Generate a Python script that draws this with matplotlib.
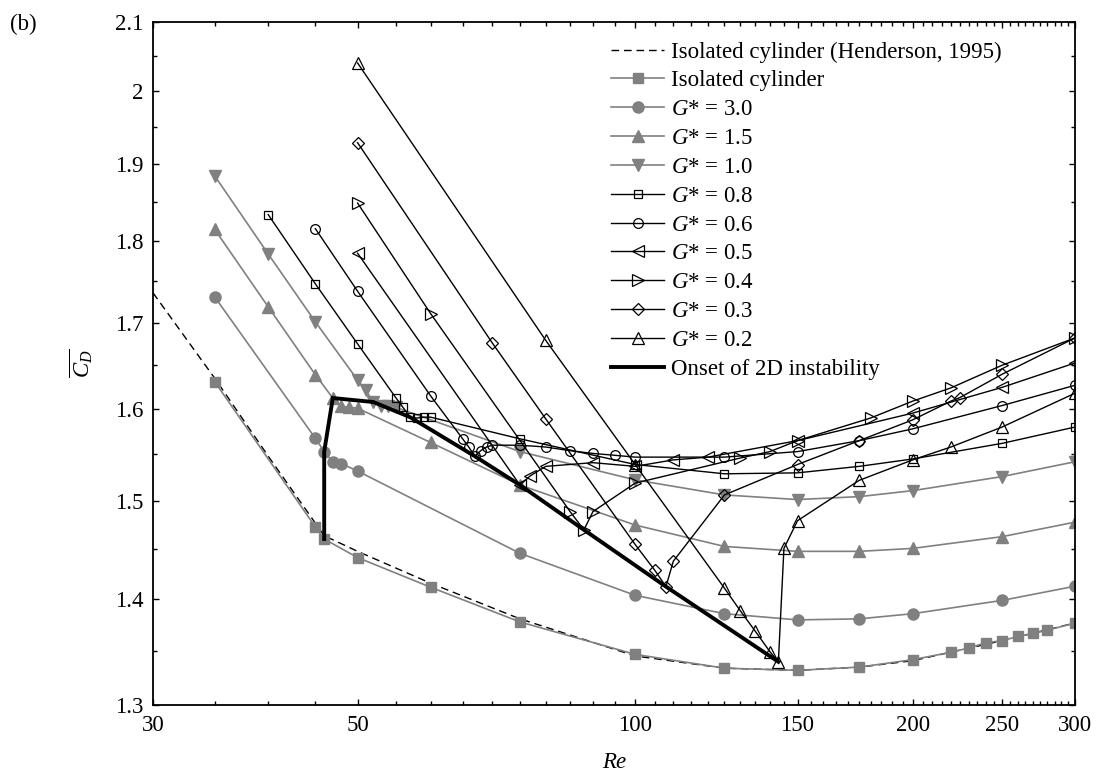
import matplotlib
matplotlib.use("Agg")
import matplotlib.pyplot as plt
from matplotlib.ticker import FixedLocator, NullFormatter

plt.rcParams['font.family'] = ['Liberation Serif', 'DejaVu Serif']
plt.rcParams['mathtext.fontset'] = 'custom'
plt.rcParams['mathtext.rm'] = 'Liberation Serif'
plt.rcParams['mathtext.it'] = 'Liberation Serif:italic'
plt.rcParams['font.size'] = 16.5

# Henderson (1995) reference curve
re_hend = [30, 35, 40, 46, 50, 60, 75, 100, 125, 150, 175, 200, 250, 300]
cd_hend = [1.736, 1.635, 1.548, 1.464, 1.448, 1.416, 1.381, 1.3455, 1.334, 1.332, 1.335, 1.341, 1.360, 1.377]

# isolated cylinder (present)
re_iso = [35, 45, 46, 50, 60, 75, 100, 125, 150, 175, 200, 220, 230, 240, 250, 260, 270, 280, 300]
cd_iso = [1.631, 1.473, 1.4606, 1.4417, 1.412, 1.378, 1.347, 1.334, 1.332, 1.335, 1.342, 1.349, 1.353,
          1.358, 1.360, 1.364, 1.367, 1.370, 1.377]

re_g30 = [35, 45, 46, 47, 48, 50, 75, 100, 125, 150, 175, 200, 250, 300]
cd_g30 = [1.731, 1.5675, 1.553, 1.542, 1.540, 1.532, 1.446, 1.404, 1.386, 1.380, 1.381, 1.386, 1.399, 1.413]

re_g15 = [35, 40, 45, 47, 48, 49, 50, 60, 75, 100, 125, 150, 175, 200, 250, 300]
cd_g15 = [1.815, 1.719, 1.639, 1.6125, 1.603, 1.602, 1.601, 1.563, 1.517, 1.475, 1.453, 1.448, 1.448,
          1.451, 1.463, 1.478]

re_g10 = [35, 40, 45, 50, 51, 52, 53, 54, 55, 75, 100, 125, 150, 175, 200, 250, 300]
cd_g10 = [1.8845, 1.784, 1.701, 1.633, 1.6217, 1.608, 1.604, 1.604, 1.602, 1.553, 1.5225, 1.5065, 1.5016,
          1.5047, 1.511, 1.526, 1.542]

re_g08 = [40, 45, 50, 55, 56, 57, 58, 59, 60, 75, 100, 125, 150, 175, 200, 250, 300]
cd_g08 = [1.834, 1.747, 1.675, 1.613, 1.602, 1.591, 1.590, 1.591, 1.591, 1.567, 1.539, 1.529, 1.530,
          1.537, 1.545, 1.562, 1.580]

re_g06 = [45, 50, 60, 65, 66, 67, 68, 69, 70, 75, 80, 85, 90, 95, 100, 125, 150, 175, 200, 250, 300]
cd_g06 = [1.816, 1.738, 1.615, 1.567, 1.558, 1.548, 1.554, 1.558, 1.560, 1.560, 1.558, 1.554, 1.551,
          1.549, 1.547, 1.547, 1.553, 1.565, 1.578, 1.604, 1.627]

re_g05 = [50, 75, 77, 80, 90, 100, 110, 120, 150, 200, 250, 300]
cd_g05 = [1.785, 1.517, 1.527, 1.537, 1.541, 1.537, 1.544, 1.547, 1.565, 1.5955, 1.6246, 1.6527]

re_g04 = [50, 60, 85, 88, 90, 100, 130, 140, 150, 180, 200, 220, 250, 300]
cd_g04 = [1.849, 1.711, 1.489, 1.470, 1.489, 1.519, 1.546, 1.553, 1.565, 1.590, 1.609, 1.624, 1.650, 1.682]

re_g03 = [50, 70, 80, 100, 105, 108, 110, 125, 150, 175, 200, 220, 225, 250, 300]
cd_g03 = [1.929, 1.676, 1.589, 1.455, 1.429, 1.4126, 1.438, 1.5065, 1.539, 1.565, 1.588, 1.609, 1.613,
          1.6396, 1.682]

re_g02 = [50, 80, 100, 125, 130, 135, 140, 143, 145, 150, 175, 200, 220, 250, 300]
cd_g02 = [2.040, 1.679, 1.539, 1.411, 1.389, 1.369, 1.3496, 1.340, 1.451, 1.4795, 1.522, 1.544, 1.558,
          1.580, 1.618]

# onset of 2D instability
re_onset = [46, 46, 47, 52, 57, 67, 75, 88, 108, 143]
cd_onset = [1.4606, 1.553, 1.6125, 1.608, 1.591, 1.548, 1.517, 1.470, 1.4126, 1.340]

gray = '#808080'

fig = plt.figure(figsize=(10.97, 7.82), dpi=100)
ax = fig.add_axes([0.1395, 0.0985, 0.8405, 0.8738])

ax.plot(re_hend, cd_hend, color='black', lw=1.0, dashes=(5.5, 3.5),
        label='Isolated cylinder (Henderson, 1995)')
ax.plot(re_iso, cd_iso, color=gray, lw=1.2, marker='s', ms=7, mec=gray, mfc=gray,
        label='Isolated cylinder')
ax.plot(re_g30, cd_g30, color=gray, lw=1.2, marker='o', ms=8, mec=gray, mfc=gray,
        label='$G$* = 3.0')
ax.plot(re_g15, cd_g15, color=gray, lw=1.2, marker='^', ms=9, mec=gray, mfc=gray,
        label='$G$* = 1.5')
ax.plot(re_g10, cd_g10, color=gray, lw=1.2, marker='v', ms=9, mec=gray, mfc=gray,
        label='$G$* = 1.0')

open_kw = dict(color='black', lw=1.0, mfc='none', mec='black', mew=0.9)
ax.plot(re_g08, cd_g08, marker='s', ms=6, label='$G$* = 0.8', **open_kw)
ax.plot(re_g06, cd_g06, marker='o', ms=7, label='$G$* = 0.6', **open_kw)
ax.plot(re_g05, cd_g05, marker='<', ms=8, label='$G$* = 0.5', **open_kw)
ax.plot(re_g04, cd_g04, marker='>', ms=8, label='$G$* = 0.4', **open_kw)
ax.plot(re_g03, cd_g03, marker='D', ms=6.5, label='$G$* = 0.3', **open_kw)
ax.plot(re_g02, cd_g02, marker='^', ms=8, label='$G$* = 0.2', **open_kw)

ax.plot(re_onset, cd_onset, color='black', lw=2.8, solid_joinstyle='miter',
        label='Onset of 2D instability')

ax.set_xscale('log')
ax.set_yscale('log')
ax.set_xlim(30, 300)
ax.set_ylim(1.3, 2.1)

xmaj = [30, 50, 100, 150, 200, 250, 300]
xmin = [v for v in range(35, 300, 5) if v not in xmaj]
ax.xaxis.set_major_locator(FixedLocator(xmaj))
ax.xaxis.set_minor_locator(FixedLocator(xmin))
ax.set_xticklabels([str(v) for v in xmaj])
ax.xaxis.set_minor_formatter(NullFormatter())

ymaj = [1.3, 1.4, 1.5, 1.6, 1.7, 1.8, 1.9, 2.0, 2.1]
ylabs = ['1.3', '1.4', '1.5', '1.6', '1.7', '1.8', '1.9', '2', '2.1']
ymin = [1.35, 1.45, 1.55, 1.65, 1.75, 1.85, 1.95, 2.05]
ax.yaxis.set_major_locator(FixedLocator(ymaj))
ax.yaxis.set_minor_locator(FixedLocator(ymin))
ax.set_yticklabels(ylabs)
ax.yaxis.set_minor_formatter(NullFormatter())

ax.tick_params(which='both', direction='in', top=True, right=True, width=1.0)
ax.tick_params(which='major', length=4.5, pad=7)
ax.tick_params(which='minor', length=3)
for s in ax.spines.values():
    s.set_linewidth(1.3)

ax.set_xlabel('Re', fontstyle='italic', labelpad=12)
ax.set_ylabel(r'$\overline{C_D}$', labelpad=14)

ax.legend(loc='upper left', bbox_to_anchor=(0.497, 0.971), frameon=False,
          borderpad=0, borderaxespad=0, handlelength=2.3, handletextpad=0.3,
          labelspacing=0.34, fontsize=16.5)

fig.text(0.009, 0.962, '(b)', fontsize=16.5)

fig.savefig('out.png', dpi=100)
